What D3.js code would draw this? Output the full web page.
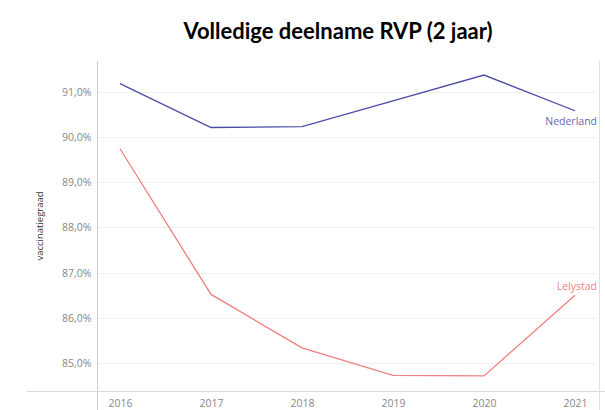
<!DOCTYPE html>
<html>
<head>
<meta charset="utf-8">
<script src="https://cdn.jsdelivr.net/npm/d3@7"></script>
<style>
  body { margin: 0; background: #fff; }
  svg { display: block; }
</style>
</head>
<body>
<svg id="chart" width="605" height="410"></svg>
<script>
// data
const years = [2016, 2017, 2018, 2019, 2020, 2021];
const nederland = [91.18, 90.21, 90.23, 90.80, 91.37, 90.58];
const lelystad = [89.74, 86.52, 85.34, 84.73, 84.72, 86.50];
const yTicks = [85, 86, 87, 88, 89, 90, 91];

const svg = d3.select('#chart');
const fmt = v => d3.format('.1f')(v).replace('.', ',') + '%';

const x = d3.scaleLinear().domain([2016, 2021]).range([120, 575]);
const y = d3.scaleLinear().domain([84.37, 91.68]).range([391.7, 61]);

// title
svg.append('text')
  .attr('x', 338).attr('y', 39)
  .attr('text-anchor', 'middle')
  .attr('font-family', 'Lato, sans-serif')
  .attr('font-weight', 'bold')
  .attr('font-size', 22)
  .attr('fill', '#000')
  .text('Volledige deelname RVP (2 jaar)');

// gridlines
svg.append('g').selectAll('line')
  .data(yTicks).enter().append('line')
    .attr('x1', 98).attr('x2', 597)
    .attr('y1', d => Math.round(y(d)) + 0.5)
    .attr('y2', d => Math.round(y(d)) + 0.5)
    .attr('stroke', '#f0f0f0');

// y axis
const yAxis = svg.append('g')
  .attr('transform', 'translate(97.5,0)')
  .call(d3.axisLeft(y).tickValues(yTicks).tickFormat(fmt).tickSize(0).tickPadding(6));
yAxis.select('.domain').remove();
yAxis.selectAll('text')
  .attr('font-family', '"Open Sans", sans-serif')
  .attr('font-size', 10.5)
  .attr('fill', '#888');

// axis lines
svg.append('line')
  .attr('x1', 97.5).attr('x2', 97.5).attr('y1', 61).attr('y2', 410)
  .attr('stroke', '#cfcfcf');
svg.append('line')
  .attr('x1', 27).attr('x2', 605).attr('y1', 391.5).attr('y2', 391.5)
  .attr('stroke', '#d9d9d9');
svg.append('line')
  .attr('x1', 599.5).attr('x2', 599.5).attr('y1', 61).attr('y2', 410)
  .attr('stroke', '#e0e0e0');

// x axis
const xAxis = svg.append('g')
  .attr('transform', 'translate(0,392)')
  .call(d3.axisBottom(x).tickValues(years).tickFormat(d3.format('d')).tickSize(0).tickPadding(8));
xAxis.select('.domain').remove();
xAxis.selectAll('text')
  .attr('font-family', '"Open Sans", sans-serif')
  .attr('font-size', 10.5)
  .attr('fill', '#888');

// y axis title
svg.append('text')
  .attr('transform', 'translate(43,226) rotate(-90)')
  .attr('text-anchor', 'middle')
  .attr('font-family', '"Open Sans", sans-serif')
  .attr('font-size', 9.5)
  .attr('fill', '#333')
  .text('vaccinatiegraad');

// lines
const line = d3.line().x((d, i) => x(years[i])).y(d => y(d));
svg.append('path').datum(nederland)
  .attr('d', line).attr('fill', 'none')
  .attr('stroke', '#4b4ba6').attr('stroke-width', 1.3);
svg.append('path').datum(lelystad)
  .attr('d', line).attr('fill', 'none')
  .attr('stroke', '#ef7f7f').attr('stroke-width', 1.3);

// end labels
svg.append('text')
  .attr('x', 597).attr('y', y(nederland[5]) + 14)
  .attr('text-anchor', 'end')
  .attr('font-family', '"Open Sans", sans-serif')
  .attr('font-size', 10.5)
  .attr('fill', '#6666b3')
  .text('Nederland');
svg.append('text')
  .attr('x', 597).attr('y', y(lelystad[5]) - 5)
  .attr('text-anchor', 'end')
  .attr('font-family', '"Open Sans", sans-serif')
  .attr('font-size', 10.5)
  .attr('fill', '#ef7f7f')
  .text('Lelystad');
</script>
</body>
</html>
